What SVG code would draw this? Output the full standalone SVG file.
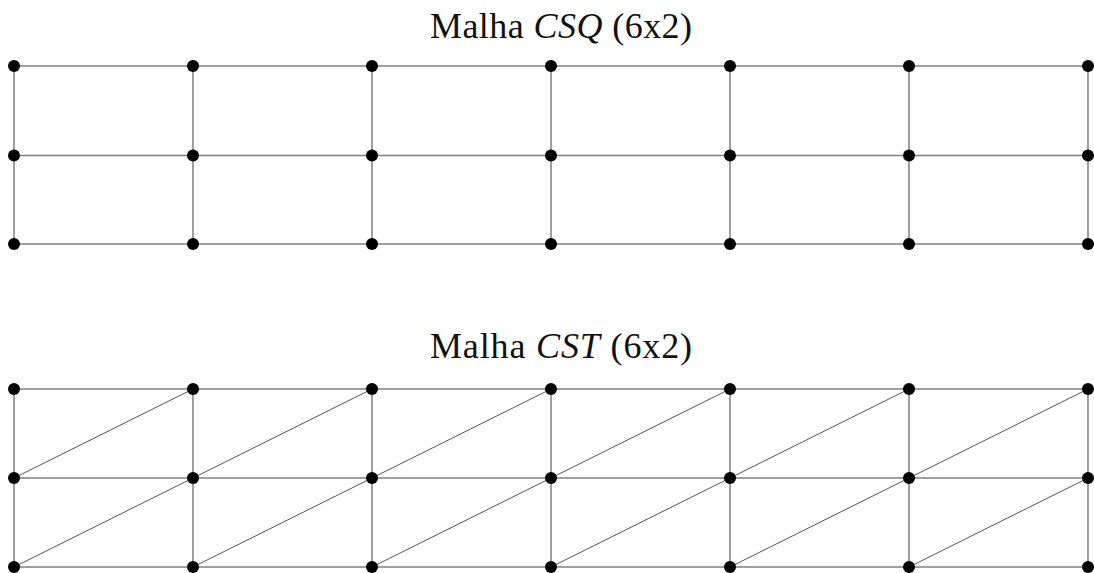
<svg xmlns="http://www.w3.org/2000/svg" width="1094" height="573" viewBox="0 0 1094 573">
<style>
.t{font-family:"Liberation Serif","Times New Roman",serif;font-size:36px;fill:#111;text-anchor:middle}
.i{font-style:italic}
.e{stroke:#808080;stroke-width:1.5;fill:none}
.d{stroke:#555;stroke-width:1;fill:none}
.n{fill:#000}
</style>
<rect width="1094" height="573" fill="#fff"/>
<text class="t" x="561" y="38" textLength="262" lengthAdjust="spacing">Malha <tspan class="i">CSQ</tspan> (6x2)</text>
<text class="t" x="561" y="358" textLength="262" lengthAdjust="spacing">Malha <tspan class="i">CST</tspan> (6x2)</text>
<g id="connectors">
<g id="csq-edges" class="e">
<path d="M14,66H1088M14,155.5H1088M14,244H1088"/>
<path d="M14,66V244M193,66V244M372,66V244M551,66V244M730,66V244M909,66V244M1088,66V244"/>
</g>
<g id="cst-edges" class="e">
<path d="M14,389H1088M14,478H1088M14,567H1088"/>
<path d="M14,389V567M193,389V567M372,389V567M551,389V567M730,389V567M909,389V567M1088,389V567"/>
</g>
<g id="cst-diagonals" class="d">
<path d="M14,478L193,389M193,478L372,389M372,478L551,389M551,478L730,389M730,478L909,389M909,478L1088,389"/>
<path d="M14,567L193,478M193,567L372,478M372,567L551,478M551,567L730,478M730,567L909,478M909,567L1088,478"/>
</g>
</g>
<g id="csq-nodes" class="n">
<g id="q-r0"><circle cx="14" cy="66" r="6"/><circle cx="193" cy="66" r="6"/><circle cx="372" cy="66" r="6"/><circle cx="551" cy="66" r="6"/><circle cx="730" cy="66" r="6"/><circle cx="909" cy="66" r="6"/><circle cx="1088" cy="66" r="6"/></g>
<g id="q-r1"><circle cx="14" cy="155.5" r="6"/><circle cx="193" cy="155.5" r="6"/><circle cx="372" cy="155.5" r="6"/><circle cx="551" cy="155.5" r="6"/><circle cx="730" cy="155.5" r="6"/><circle cx="909" cy="155.5" r="6"/><circle cx="1088" cy="155.5" r="6"/></g>
<g id="q-r2"><circle cx="14" cy="244" r="6"/><circle cx="193" cy="244" r="6"/><circle cx="372" cy="244" r="6"/><circle cx="551" cy="244" r="6"/><circle cx="730" cy="244" r="6"/><circle cx="909" cy="244" r="6"/><circle cx="1088" cy="244" r="6"/></g>
</g>
<g id="cst-nodes" class="n">
<g id="t-r0"><circle cx="14" cy="389" r="6"/><circle cx="193" cy="389" r="6"/><circle cx="372" cy="389" r="6"/><circle cx="551" cy="389" r="6"/><circle cx="730" cy="389" r="6"/><circle cx="909" cy="389" r="6"/><circle cx="1088" cy="389" r="6"/></g>
<g id="t-r1"><circle cx="14" cy="478" r="6"/><circle cx="193" cy="478" r="6"/><circle cx="372" cy="478" r="6"/><circle cx="551" cy="478" r="6"/><circle cx="730" cy="478" r="6"/><circle cx="909" cy="478" r="6"/><circle cx="1088" cy="478" r="6"/></g>
<g id="t-r2"><circle cx="14" cy="567" r="6"/><circle cx="193" cy="567" r="6"/><circle cx="372" cy="567" r="6"/><circle cx="551" cy="567" r="6"/><circle cx="730" cy="567" r="6"/><circle cx="909" cy="567" r="6"/><circle cx="1088" cy="567" r="6"/></g>
</g>
</svg>
